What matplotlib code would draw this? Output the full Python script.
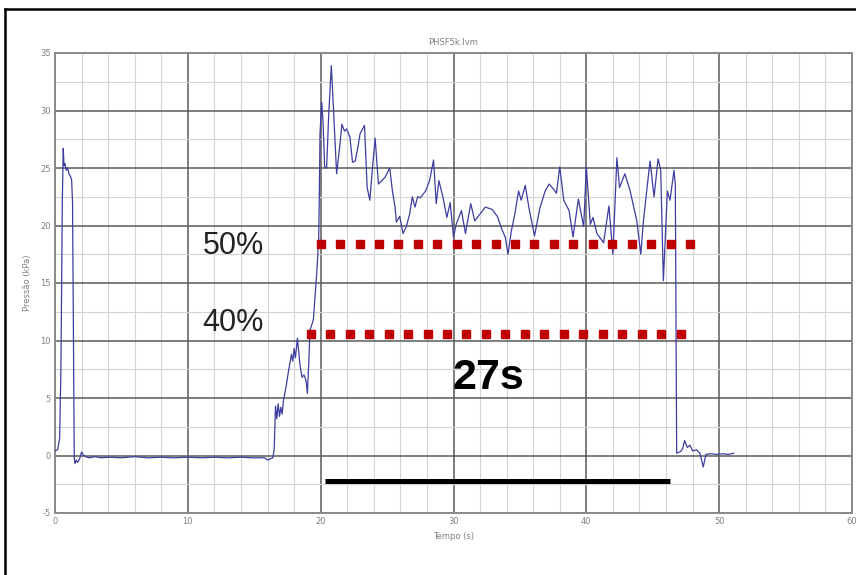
import matplotlib
matplotlib.use('Agg')
import matplotlib.pyplot as plt
from matplotlib.lines import Line2D
from matplotlib.ticker import MultipleLocator
import numpy as np

plt.rcParams['axes.unicode_minus'] = False

# pressure trace (time s, pressure kPa)
trace = [
    (0.0, 0.4), (0.2, 0.5), (0.35, 1.5), (0.45, 8.0), (0.55, 22.0),
    (0.62, 26.7), (0.68, 25.2), (0.75, 25.4), (0.85, 24.8), (0.95, 25.0),
    (1.05, 24.5), (1.15, 24.3), (1.25, 24.0), (1.32, 22.0), (1.38, 12.0),
    (1.45, -0.2), (1.5, -0.7), (1.6, -0.4), (1.7, -0.6), (1.85, -0.3),
    (2.0, 0.3), (2.1, 0.1), (2.3, -0.1), (2.6, -0.2), (3.0, -0.1),
    (3.5, -0.2), (4.0, -0.15), (5, -0.2), (6, -0.1), (7, -0.2), (8, -0.15),
    (9, -0.2), (10, -0.15), (11, -0.2), (12, -0.15), (13, -0.2), (14, -0.15),
    (15, -0.2), (15.8, -0.2), (16.0, -0.4), (16.2, -0.3), (16.4, -0.2),
    (16.5, 0.5), (16.6, 4.3), (16.7, 3.2), (16.8, 4.5), (16.9, 3.4),
    (17.0, 4.2), (17.1, 3.6), (17.2, 4.8), (17.4, 6.0), (17.6, 7.5),
    (17.8, 8.8), (17.9, 8.2), (18.0, 9.3), (18.1, 8.5), (18.25, 10.2),
    (18.45, 7.8), (18.6, 6.8), (18.75, 7.0), (18.9, 6.5), (19.0, 5.4),
    (19.1, 8.0), (19.2, 10.9), (19.45, 11.8), (19.7, 15.8), (19.85, 18.7),
    (19.9, 22.7), (19.95, 28.0), (20.08, 30.7), (20.18, 29.0), (20.3, 25.1),
    (20.45, 25.0), (20.6, 29.5), (20.8, 33.9), (20.95, 30.5), (21.2, 24.5),
    (21.4, 26.5), (21.6, 28.8), (21.8, 28.2), (21.95, 28.4), (22.2, 27.7),
    (22.4, 25.5), (22.6, 25.6), (22.8, 26.8), (22.97, 28.0), (23.3, 28.7),
    (23.5, 23.3), (23.7, 22.2), (23.9, 25.0), (24.1, 27.6), (24.35, 23.6),
    (24.6, 23.9), (24.85, 24.2), (25.2, 25.0), (25.4, 23.0), (25.6, 21.6),
    (25.7, 20.3), (25.95, 20.8), (26.2, 19.3), (26.45, 19.9), (26.7, 21.0),
    (26.9, 22.5), (27.1, 21.6), (27.3, 22.5), (27.5, 22.4), (27.9, 23.0),
    (28.2, 23.9), (28.5, 25.7), (28.6, 23.8), (28.7, 21.9), (28.9, 23.9),
    (29.2, 22.5), (29.5, 20.7), (29.75, 22.0), (30.0, 19.0), (30.2, 20.1),
    (30.6, 21.3), (30.9, 19.3), (31.3, 21.9), (31.6, 20.4), (31.8, 20.7),
    (32.0, 21.0), (32.4, 21.6), (32.9, 21.4), (33.3, 20.8), (33.6, 19.8),
    (33.9, 18.97), (34.1, 17.5), (34.35, 19.5), (34.6, 20.9), (34.9, 23.0),
    (35.1, 22.2), (35.4, 23.5), (35.7, 21.4), (36.1, 19.1), (36.5, 21.5),
    (36.9, 23.0), (37.2, 23.6), (37.5, 23.2), (37.75, 22.8), (38.0, 25.1),
    (38.3, 22.2), (38.7, 21.3), (39.0, 19.0), (39.4, 22.3), (39.8, 19.9),
    (40.0, 25.1), (40.3, 20.1), (40.5, 20.7), (40.8, 19.3), (41.3, 18.5),
    (41.7, 21.7), (42.0, 17.5), (42.3, 25.9), (42.5, 23.3), (42.9, 24.5),
    (43.3, 23.0), (43.8, 20.4), (44.1, 17.5), (44.3, 20.4), (44.6, 23.6),
    (44.8, 25.6), (45.1, 22.5), (45.4, 25.8), (45.6, 24.8), (45.8, 15.2),
    (46.1, 23.0), (46.3, 22.2), (46.6, 24.8), (46.7, 23.5), (46.8, 0.2),
    (47.1, 0.35), (47.25, 0.6), (47.4, 1.3), (47.6, 0.7), (47.8, 0.9),
    (48.0, 0.4), (48.3, 0.5), (48.55, 0.2), (48.8, -1.0), (49.0, 0.1),
    (49.4, 0.15), (49.8, 0.1), (50.3, 0.15), (50.7, 0.1), (51.1, 0.2),
]
t = [a for a, b in trace]
p = [b for a, b in trace]

# dotted threshold levels
levels = [18.35, 10.6]
level_start = [20.0, 19.25]
level_end = [47.8, 47.1]
level_names = ['50%', '40%']
level_label_y = [18.2, 11.5]

bar_y = -2.2
bar_x = [20.3, 46.3]
bar_label = '27s'

fig = plt.figure(figsize=(8.56, 5.75), dpi=100, facecolor='white')
ax = fig.add_axes([55/856, 62/575, 797/856, 460/575])

ax.plot(t, p, color='#3d3da0', lw=0.9, zorder=5)

for lv, x0, x1 in zip(levels, level_start, level_end):
    xs = np.linspace(x0, x1, 20)
    ax.plot(xs, [lv]*len(xs), ls='none', marker='s', ms=6.1,
            color='#c00000', zorder=6)

for name, yy in zip(level_names, level_label_y):
    ax.text(11.1, yy, name, fontsize=22, family='Liberation Sans',
            color='#222222', va='center', ha='left')

ax.plot(bar_x, [bar_y, bar_y], color='black', lw=3.6, solid_capstyle='butt',
        zorder=6)
ax.text(32.6, 6.7, bar_label, fontsize=31, fontweight='bold',
        family='Liberation Sans', ha='center', va='center', color='black')

ax.set_xlim(0, 60)
ax.set_ylim(-5, 35)
ax.xaxis.set_major_locator(MultipleLocator(10))
ax.xaxis.set_minor_locator(MultipleLocator(2))
ax.yaxis.set_major_locator(MultipleLocator(5))
ax.yaxis.set_minor_locator(MultipleLocator(2.5))
ax.grid(which='major', color='#5a5a5a', lw=1.1, zorder=0)
ax.grid(which='minor', color='#d4d4d4', lw=0.8, zorder=0)
ax.set_axisbelow(True)
ax.tick_params(which='both', length=0, labelsize=6, labelcolor='#808080',
               pad=3)
for s in ax.spines.values():
    s.set_color('#8a8a8a')
    s.set_linewidth(1.4)

ax.set_title('PHSF5k.lvm', fontsize=6, color='#808080', pad=6)
ax.set_xlabel('Tempo (s)', fontsize=6, color='#808080', labelpad=4)
ax.set_ylabel('Pressão (kPa)', fontsize=6, color='#808080', labelpad=6)

# outer frame (left and top edges visible)
fig.add_artist(Line2D([5/856, 5/856], [0, 1 - 9/575], color='black', lw=1.8,
                      transform=fig.transFigure))
fig.add_artist(Line2D([5/856, 1], [1 - 9/575, 1 - 9/575], color='black',
                      lw=1.8, transform=fig.transFigure))

fig.savefig('out.png', dpi=100, facecolor='white')
